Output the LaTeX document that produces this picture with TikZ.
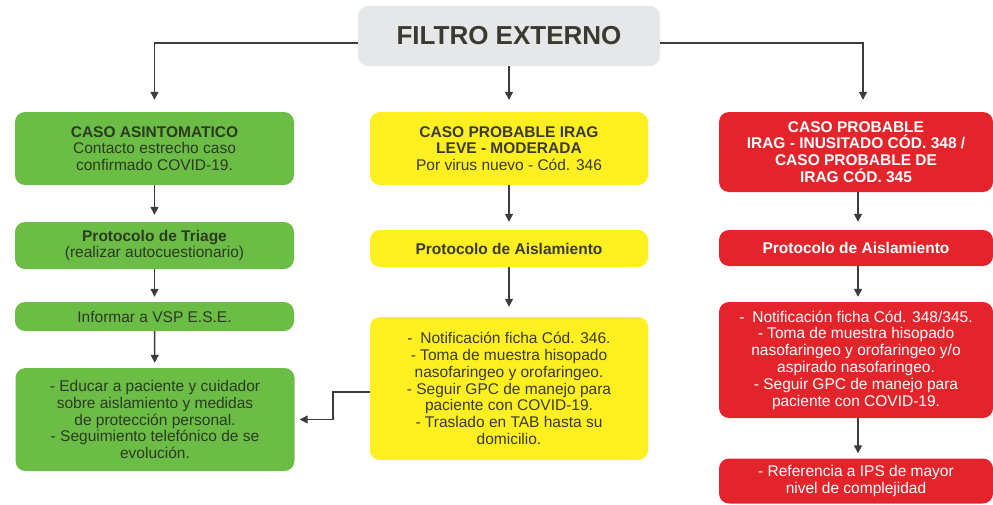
\documentclass[tikz,border=0pt]{standalone}
\usepackage{fontspec}
\setmainfont{Liberation Sans}
\usetikzlibrary{arrows.meta}
\definecolor{filtrogris}{HTML}{E6E7E9}
\definecolor{verde}{HTML}{6CBD45}
\definecolor{amarillo}{HTML}{FEF020}
\definecolor{rojo}{HTML}{E4242B}
\definecolor{textoverde}{HTML}{2C3A22}
\definecolor{textogris}{HTML}{3A3A30}
\definecolor{flecha}{HTML}{3C3C3C}
\begin{document}
\begin{tikzpicture}[x=1pt,y=-1pt,
	caja/.style={rounded corners=10pt, align=center, inner sep=0pt, font=\fontsize{15.5}{16.8}\selectfont},
	gcaja/.style={caja, fill=verde, text=textoverde, minimum width=279pt},
	ycaja/.style={caja, fill=amarillo, text=textogris, minimum width=278pt},
	rcaja/.style={caja, fill=rojo, text=white, minimum width=274pt},
	flec/.style={draw=flecha, line width=1.4pt, -{Triangle[width=8pt,length=8pt]}}]
				\useasboundingbox (0,0) rectangle (993,504);
				
				\node[caja, fill=filtrogris, text=textogris, minimum width=302pt, minimum height=60pt, font=\fontsize{26}{30}\selectfont\bfseries] (filtro) at (509, 36) {FILTRO EXTERNO};
				
				% columna verde
				\node[gcaja, minimum height=73pt] (g1) at (154.5, 148.5) {\textbf{CASO ASINTOMATICO}\\Contacto estrecho caso\\confirmado COVID-19.};
				\node[gcaja, minimum height=47pt] (g2) at (154.5, 245.5) {\textbf{Protocolo de Triage}\\(realizar autocuestionario)};
				\node[gcaja, minimum height=29pt] (g3) at (154.5, 316.5) {Informar a VSP E.S.E.};
				\node[gcaja, minimum height=103pt] (g4) at (155, 419.5) {- Educar a paciente y cuidador\\sobre aislamiento y medidas\\de protección personal.\\- Seguimiento telefónico de se\\evolución.};
				
				% columna amarilla
				\node[ycaja, minimum height=73pt] (y1) at (509, 148.5) {\textbf{CASO PROBABLE IRAG}\\\textbf{LEVE - MODERADA}\\Por virus nuevo - Cód. 346};
				\node[ycaja, minimum height=37pt] (y2) at (509, 248.5) {\textbf{Protocolo de Aislamiento}};
				\node[ycaja, minimum height=143pt] (y3) at (509, 388.5) {-\enspace Notificación ficha Cód. 346.\\- Toma de muestra hisopado\\nasofaringeo y orofaringeo.\\- Seguir GPC de manejo para\\paciente con COVID-19.\\- Traslado en TAB hasta su\\domicilio.};
				
				% columna roja
				\node[rcaja, minimum height=80pt] (r1) at (856, 152) {\textbf{CASO PROBABLE}\\\textbf{IRAG - INUSITADO CÓD. 348 /}\\\textbf{CASO PROBABLE DE}\\\textbf{IRAG CÓD. 345}};
				\node[rcaja, minimum height=36pt] (r2) at (856, 248) {\textbf{Protocolo de Aislamiento}};
				\node[rcaja, minimum height=116pt] (r3) at (856, 360) {-\enspace Notificación ficha Cód. 348/345.\\- Toma de muestra hisopado\\nasofaringeo y orofaringeo y/o\\aspirado nasofaringeo.\\- Seguir GPC de manejo para\\paciente con COVID-19.};
				\node[rcaja, minimum height=45pt] (r4) at (856, 481) {- Referencia a IPS de mayor\\nivel de complejidad};
				
				% flechas
				\draw[flec, shorten >=12pt] ([yshift=-7pt]filtro.west) -| (g1);
				\draw[flec, shorten >=12pt] (filtro) -- (y1);
				\draw[flec, shorten >=12pt] ([yshift=-7pt]filtro.east) -| ([xshift=7pt]r1.north);
				\draw[flec, shorten >=7pt] (g1) -- (g2);
				\draw[flec, shorten >=5pt] (g2) -- (g3);
				\draw[flec, shorten >=5pt] (g3) -- (g4);
				\draw[flec, shorten >=8pt] (y1) -- (y2);
				\draw[flec, shorten >=10pt] (y2) -- (y3);
				\draw[flec, shorten >=8pt] ([xshift=2pt]r1.south) -- ([xshift=2pt]r2.north);
				\draw[flec, shorten >=5pt] ([xshift=2pt]r2.south) -- ([xshift=2pt]r3.north);
				\draw[flec, shorten >=5pt] ([xshift=2pt]r3.south) -- ([xshift=2pt]r4.north);
				\coordinate (codo) at (333, 392);
				\draw[flec, shorten >=5pt] (y3.west |- codo) -- (codo) |- (g4.east);
\end{tikzpicture}
\end{document}
